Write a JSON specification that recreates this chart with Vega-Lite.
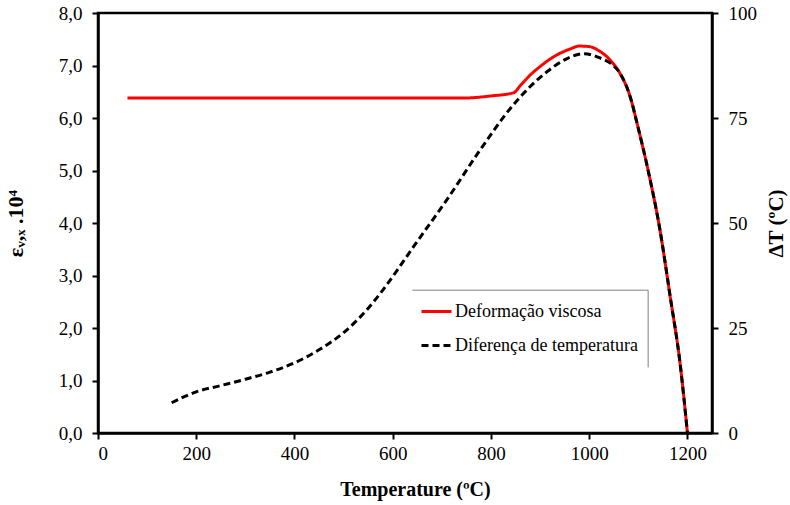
{
  "$schema": "https://vega.github.io/schema/vega-lite/v6.json",
  "width": 614,
  "height": 420,
  "autosize": {"type": "none"},
  "padding": {"left": 98, "top": 13, "right": 78, "bottom": 72},
  "background": "white",
  "config": {
    "font": "Liberation Serif",
    "view": {"stroke": "black", "strokeWidth": 2.5},
    "style": {"guide-label": {"font": "Liberation Serif"}, "guide-title": {"font": "Liberation Serif"}},
    "axis": {
      "grid": false,
      "domainColor": "black",
      "domainWidth": 2.5,
      "tickColor": "black",
      "tickWidth": 2,
      "tickSize": 6,
      "labelFont": "Liberation Serif",
      "labelFontSize": 19,
      "labelColor": "black",
      "titleFont": "Liberation Serif",
      "titleFontWeight": "bold",
      "titleColor": "black"
    },
    "legend": {
      "orient": "none",
      "legendX": 322,
      "legendY": 282,
      "title": null,
      "labelFont": "Liberation Serif",
      "labelFontSize": 18,
      "labelColor": "black",
      "labelLimit": 0,
      "symbolType": "stroke",
      "symbolSize": 900,
      "symbolStrokeWidth": 3,
      "labelOffset": 2,
      "rowPadding": 8,
      "padding": 0
    }
  },
  "datasets": {
    "curves": [
      {"T": 60, "v": 6.38, "s": "Deformação viscosa"},
      {"T": 200, "v": 6.38, "s": "Deformação viscosa"},
      {"T": 400, "v": 6.38, "s": "Deformação viscosa"},
      {"T": 600, "v": 6.38, "s": "Deformação viscosa"},
      {"T": 743, "v": 6.38, "s": "Deformação viscosa"},
      {"T": 800, "v": 6.42, "s": "Deformação viscosa"},
      {"T": 846, "v": 6.48, "s": "Deformação viscosa"},
      {"T": 860, "v": 6.62, "s": "Deformação viscosa"},
      {"T": 880, "v": 6.82, "s": "Deformação viscosa"},
      {"T": 900, "v": 6.98, "s": "Deformação viscosa"},
      {"T": 920, "v": 7.12, "s": "Deformação viscosa"},
      {"T": 940, "v": 7.23, "s": "Deformação viscosa"},
      {"T": 960, "v": 7.31, "s": "Deformação viscosa"},
      {"T": 980, "v": 7.37, "s": "Deformação viscosa"},
      {"T": 1000, "v": 7.36, "s": "Deformação viscosa"},
      {"T": 1020, "v": 7.28, "s": "Deformação viscosa"},
      {"T": 1040, "v": 7.13, "s": "Deformação viscosa"},
      {"T": 1062, "v": 6.86, "s": "Deformação viscosa"},
      {"T": 1083, "v": 6.42, "s": "Deformação viscosa"},
      {"T": 1100, "v": 5.8, "s": "Deformação viscosa"},
      {"T": 1120, "v": 5.0, "s": "Deformação viscosa"},
      {"T": 1144, "v": 3.87, "s": "Deformação viscosa"},
      {"T": 1165, "v": 2.59, "s": "Deformação viscosa"},
      {"T": 1185, "v": 1.33, "s": "Deformação viscosa"},
      {"T": 1200, "v": 0.0, "s": "Deformação viscosa"},
      {"T": 150, "v": 7.2, "s": "Diferença de temperatura"},
      {"T": 200, "v": 9.8, "s": "Diferença de temperatura"},
      {"T": 250, "v": 11.3, "s": "Diferença de temperatura"},
      {"T": 300, "v": 12.8, "s": "Diferença de temperatura"},
      {"T": 350, "v": 14.5, "s": "Diferença de temperatura"},
      {"T": 400, "v": 16.7, "s": "Diferença de temperatura"},
      {"T": 450, "v": 19.8, "s": "Diferença de temperatura"},
      {"T": 500, "v": 23.9, "s": "Diferença de temperatura"},
      {"T": 547, "v": 29.3, "s": "Diferença de temperatura"},
      {"T": 581, "v": 34.2, "s": "Diferença de temperatura"},
      {"T": 610, "v": 38.9, "s": "Diferença de temperatura"},
      {"T": 642, "v": 44.3, "s": "Diferença de temperatura"},
      {"T": 710, "v": 55.5, "s": "Diferença de temperatura"},
      {"T": 778, "v": 67.4, "s": "Diferença de temperatura"},
      {"T": 846, "v": 78.2, "s": "Diferença de temperatura"},
      {"T": 880, "v": 82.5, "s": "Diferença de temperatura"},
      {"T": 914, "v": 86.0, "s": "Diferença de temperatura"},
      {"T": 954, "v": 89.1, "s": "Diferença de temperatura"},
      {"T": 990, "v": 90.3, "s": "Diferença de temperatura"},
      {"T": 1022, "v": 89.3, "s": "Diferença de temperatura"},
      {"T": 1049, "v": 87.5, "s": "Diferença de temperatura"},
      {"T": 1062, "v": 85.8, "s": "Diferença de temperatura"},
      {"T": 1083, "v": 80.2, "s": "Diferença de temperatura"},
      {"T": 1100, "v": 72.5, "s": "Diferença de temperatura"},
      {"T": 1120, "v": 62.5, "s": "Diferença de temperatura"},
      {"T": 1144, "v": 48.4, "s": "Diferença de temperatura"},
      {"T": 1165, "v": 32.4, "s": "Diferença de temperatura"},
      {"T": 1185, "v": 16.6, "s": "Diferença de temperatura"},
      {"T": 1200, "v": 0.0, "s": "Diferença de temperatura"}
    ],
    "frame": [
      {"x": 640, "x2": 1120, "y": 2.72, "y2": 2.72},
      {"x": 1120, "x2": 1120, "y": 2.72, "y2": 1.25}
    ]
  },
  "layer": [
    {
      "layer": [
        {
          "data": {"name": "frame"},
          "mark": {"type": "rule", "color": "#808080", "strokeWidth": 1},
          "encoding": {
            "x": {"field": "x", "type": "quantitative", "scale": {"domain": [0, 1250], "nice": false}, "title": "Temperature (ºC)"},
            "x2": {"field": "x2"},
            "y": {"field": "y", "type": "quantitative", "scale": {"domain": [0, 8], "nice": false}, "title": "εᵥ,ₓ .10⁴"},
            "y2": {"field": "y2"}
          }
        },
        {
          "data": {"name": "curves"},
          "transform": [{"filter": "datum.s === 'Deformação viscosa'"}],
          "mark": {"type": "line", "strokeWidth": 3, "interpolate": "monotone"},
          "encoding": {
            "x": {
              "field": "T",
              "type": "quantitative",
              "scale": {"domain": [0, 1250], "nice": false},
              "axis": {
                "values": [0, 200, 400, 600, 800, 1000, 1200],
                "format": "d",
                "labelFont": "Liberation Serif",
                "labelFontSize": 19,
                "labelPadding": 5,
                "titleFont": "Liberation Serif",
                "titleFontSize": 20,
                "titlePadding": 16,
                "titleX": 317
              },
              "title": "Temperature (ºC)"
            },
            "y": {
              "field": "v",
              "type": "quantitative",
              "scale": {"domain": [0, 8], "nice": false},
              "axis": {
                "orient": "left",
                "values": [0, 1, 2, 3, 4, 5, 6, 7, 8],
                "labelExpr": "replace(format(datum.value, '.1f'), '.', ',')",
                "labelFont": "Liberation Serif",
                "labelFontSize": 19,
                "labelPadding": 10,
                "titleFont": "Liberation Serif",
                "titleFontSize": 22,
                "titlePadding": 31
              },
              "title": "εᵥ,ₓ .10⁴"
            },
            "color": {
              "field": "s",
              "type": "nominal",
              "scale": {"domain": ["Deformação viscosa", "Diferença de temperatura"], "range": ["#ff0000", "#000000"]},
              "legend": {"title": null, "labelFont": "Liberation Serif", "labelFontSize": 18, "labelLimit": 0}
            },
            "strokeDash": {
              "field": "s",
              "type": "nominal",
              "scale": {"domain": ["Deformação viscosa", "Diferença de temperatura"], "range": [[1, 0], [7, 4]]},
              "legend": {"title": null, "labelFont": "Liberation Serif", "labelFontSize": 18, "labelLimit": 0}
            }
          }
        }
      ]
    },
    {
      "data": {"name": "curves"},
      "transform": [{"filter": "datum.s === 'Diferença de temperatura'"}],
      "mark": {"type": "line", "strokeWidth": 3, "interpolate": "monotone"},
      "encoding": {
        "x": {"field": "T", "type": "quantitative", "scale": {"domain": [0, 1250], "nice": false}, "title": "Temperature (ºC)"},
        "y": {
          "field": "v",
          "type": "quantitative",
          "scale": {"domain": [0, 100], "nice": false},
          "axis": {
            "orient": "right",
            "values": [0, 25, 50, 75, 100],
            "labelFont": "Liberation Serif",
            "labelFontSize": 19,
            "labelPadding": 10,
            "titleFont": "Liberation Serif",
            "titleFontSize": 21,
            "titleAngle": 270,
            "titlePadding": 30
          },
          "title": "ΔT (ºC)"
        },
        "color": {"field": "s", "type": "nominal", "legend": {"title": null}},
        "strokeDash": {"field": "s", "type": "nominal", "legend": {"title": null}}
      }
    }
  ],
  "resolve": {"scale": {"y": "independent"}}
}
